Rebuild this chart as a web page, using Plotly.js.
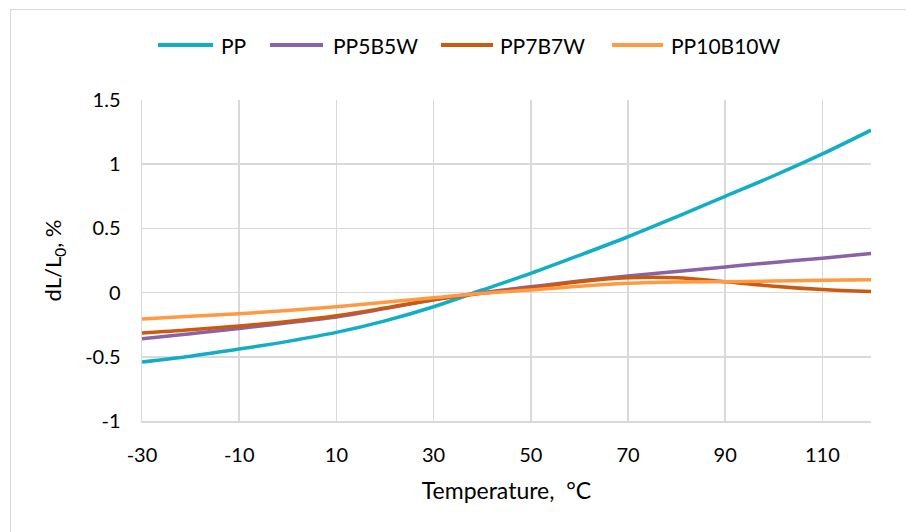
<!DOCTYPE html>
<html><head><meta charset="utf-8">
<script src="https://cdn.plot.ly/plotly-3.0.1.min.js"></script>
<style>
html,body{margin:0;padding:0;background:#fff;}
#frame{position:absolute;left:10px;top:9px;width:900px;height:530px;border-top:1px solid #d9d9d9;border-left:1px solid #d9d9d9;}
#chart{position:absolute;left:0;top:0;width:906px;height:532px;}
</style></head>
<body>
<div id="frame"></div>
<div id="chart"></div>
<script>
const temperature = [-30,-20,-10,0,10,20,30,40,50,60,70,80,90,100,110,120];
const PP       = [-0.54,-0.495,-0.44,-0.38,-0.31,-0.22,-0.11,0.02,0.15,0.29,0.435,0.59,0.75,0.91,1.08,1.265];
const PP5B5W   = [-0.36,-0.32,-0.28,-0.235,-0.19,-0.125,-0.055,0.0,0.045,0.09,0.13,0.165,0.2,0.235,0.268,0.305];
const PP7B7W   = [-0.315,-0.29,-0.26,-0.225,-0.18,-0.12,-0.055,-0.005,0.035,0.085,0.115,0.115,0.085,0.05,0.024,0.008];
const PP10B10W = [-0.205,-0.185,-0.165,-0.14,-0.11,-0.075,-0.04,-0.005,0.02,0.05,0.072,0.082,0.085,0.09,0.097,0.1];
const seriesNames = ['PP','PP5B5W','PP7B7W','PP10B10W'];
const seriesData = [PP, PP5B5W, PP7B7W, PP10B10W];
const colors = ['#12AEC6','#8A62A8','#CC5A0E','#FF9A42'];
const xTicks = [-30,-10,10,30,50,70,90,110];
const yTicks = [-1,-0.5,0,0.5,1,1.5];

const font = 'Lato, "Open Sans", sans-serif';
const traces = seriesNames.map((n,i)=>({
  x: temperature, y: seriesData[i], name: n, type:'scatter', mode:'lines',
  line:{color:colors[i], width:3.5, shape:'spline', smoothing:1}
}));

// legend drawn as layout decorations (plot area: x 142..871 px, y 100..421 px)
const L = 142, W = 729, B = 421, H = 321;
const px2x = p => (p - L) / W;
const legY = (B - 45) / H;
const legLines = [[158,213],[270,323],[441,493],[612,663]];
const legText = [219,331,498,669];
const shapes = legLines.map((s,i)=>({type:'line', xref:'paper', yref:'paper',
  x0:px2x(s[0]), x1:px2x(s[1]), y0:legY, y1:legY,
  line:{color:colors[i], width:4}}));
const annotations = seriesNames.map((n,i)=>({xref:'paper', yref:'paper',
  x:px2x(legText[i]), y:legY, xanchor:'left', yanchor:'middle', text:n,
  showarrow:false, font:{family:font, size:21, color:'#000'}}));

const layout = {
  width:906, height:532,
  paper_bgcolor:'rgba(0,0,0,0)', plot_bgcolor:'rgba(0,0,0,0)',
  margin:{l:142, r:35, t:100, b:111},
  font:{family:font, size:20, color:'#000'},
  showlegend:false,
  shapes: shapes, annotations: annotations,
  xaxis:{range:[-30,120], tickvals:xTicks, ticktext:xTicks.map(String),
         showgrid:true, gridcolor:'#d9d9d9', gridwidth:1.5, zeroline:false,
         showline:true, linecolor:'#d9d9d9', linewidth:1.5, ticks:'', ticklen:0,
         ticklabelstandoff:15,
         tickfont:{size:20}, fixedrange:true, automargin:false,
         title:{text:'Temperature,  °C', font:{size:23}, standoff:18}},
  yaxis:{range:[-1,1.5], tickvals:yTicks, ticktext:yTicks.map(String),
         showgrid:true, gridcolor:'#d9d9d9', gridwidth:1.5, zeroline:false,
         showline:true, linecolor:'#d9d9d9', linewidth:1.5, ticks:'',
         ticklabelstandoff:16,
         tickfont:{size:20}, fixedrange:true, automargin:false,
         title:{text:'dL/L<sub>0</sub>, %', font:{size:22}, standoff:17}}
};
Plotly.newPlot('chart', traces, layout, {displayModeBar:false, staticPlot:true});
</script>
</body></html>
